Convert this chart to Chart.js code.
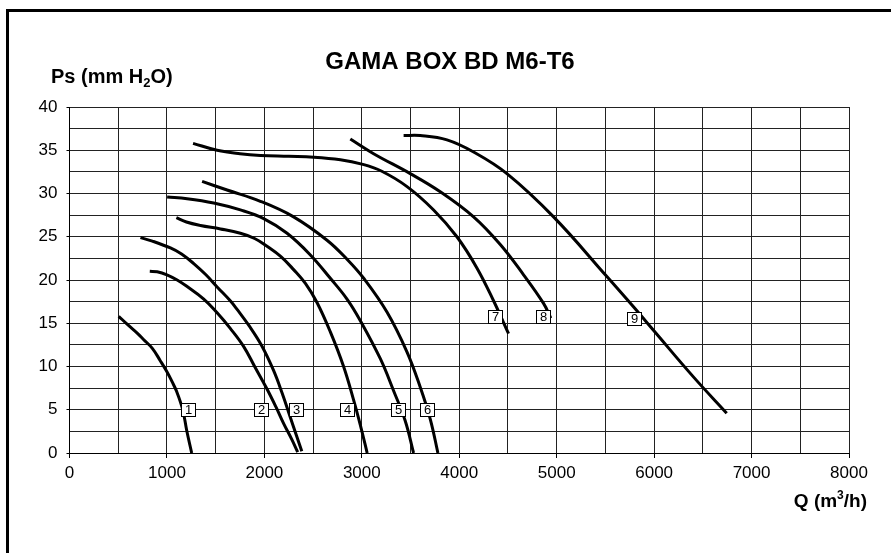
<!DOCTYPE html>
<html>
<head>
<meta charset="utf-8">
<script src="https://cdn.jsdelivr.net/npm/chart.js@4.4.0/dist/chart.umd.min.js"></script>
<style>
  html, body { margin: 0; padding: 0; background: #fff; }
  #wrap { width: 891px; height: 553px; position: relative; }
</style>
</head>
<body>
<div id="wrap"><canvas id="fanChart"></canvas></div>
<script>
// Curves: Q (m3/h) and Ps (mm H2O)
const q1 = [505, 600, 700, 762, 850, 930, 1000, 1050, 1100, 1162, 1203, 1254];
const ps1 = [15.8, 14.8, 13.8, 13.1, 12.1, 10.7, 9.4, 8.3, 7.1, 5.0, 2.6, 0];
const q2 = [824, 900, 1000, 1105, 1200, 1378, 1515, 1650, 1788, 1900, 2027, 2120, 2198, 2280, 2342];
const ps2 = [21.0, 20.95, 20.6, 20.0, 19.3, 17.8, 16.2, 14.4, 12.3, 10.0, 7.4, 5.3, 3.4, 1.6, 0.1];
const q3 = [728, 850, 1036, 1150, 1275, 1400, 1515, 1650, 1720, 1850, 1973, 2092, 2180, 2264, 2330, 2384];
const ps3 = [24.9, 24.5, 23.7, 23.0, 21.9, 20.6, 19.2, 17.6, 16.6, 14.6, 12.4, 9.6, 7.0, 4.2, 2.0, 0.2];
const q4 = [1097, 1200, 1344, 1550, 1754, 1900, 2027, 2170, 2300, 2421, 2540, 2677, 2813, 2914, 2990, 3055];
const ps4 = [27.2, 26.7, 26.3, 25.9, 25.4, 24.8, 23.9, 22.7, 21.2, 19.6, 17.4, 14.0, 10.0, 6.2, 3.0, 0];
const q5 = [1002, 1207, 1480, 1754, 1993, 2233, 2472, 2677, 2848, 2985, 3190, 3326, 3446, 3531];
const ps5 = [29.6, 29.4, 28.9, 28.1, 27.1, 25.4, 22.9, 20.2, 17.8, 15.3, 10.9, 7.2, 3.7, 0];
const q6 = [1361, 1617, 1959, 2300, 2643, 2848, 3019, 3258, 3463, 3600, 3703, 3781];
const ps6 = [31.4, 30.4, 29.1, 27.3, 24.6, 22.4, 20.2, 16.3, 11.7, 7.6, 3.9, 0];
const q7 = [1268, 1515, 1750, 1959, 2250, 2506, 2780, 3000, 3200, 3464, 3737, 3976, 4181, 4352, 4506];
const ps7 = [35.8, 35.0, 34.6, 34.4, 34.3, 34.2, 33.9, 33.4, 32.6, 30.8, 28.1, 25.0, 21.4, 17.6, 13.8];
const q8 = [2882, 3121, 3497, 3805, 4147, 4421, 4660, 4865, 4940];
const ps8 = [36.3, 34.6, 32.3, 30.2, 27.3, 24.1, 20.6, 17.3, 15.6];
const q9 = [3429, 3600, 3874, 4147, 4489, 4968, 5515, 5788, 6000, 6403, 6745];
const ps9 = [36.7, 36.7, 36.2, 34.8, 32.3, 27.3, 20.4, 16.9, 14.1, 8.8, 4.6];

// Curve number tags
const labelText = ['1', '2', '3', '4', '5', '6', '7', '8', '9'];
const labelQ = [1220, 1964, 2323, 2846, 3367, 3665, 4370, 4856, 5792];
const labelPs = [5, 5, 5, 5, 5, 5, 15.7, 15.7, 15.5];

// Axis ranges
const qMax = 8000, qStep = 500;
const psMax = 40, psStep = 2.5;

const allQ = [q1, q2, q3, q4, q5, q6, q7, q8, q9];
const allPs = [ps1, ps2, ps3, ps4, ps5, ps6, ps7, ps8, ps9];

const datasets = allQ.map((qs, i) => ({
  label: labelText[i],
  data: qs.map((q, j) => ({x: q, y: allPs[i][j]})),
  borderColor: '#000',
  borderWidth: 3,
  pointRadius: 0,
  showLine: true,
  fill: false,
  tension: 0.4
}));

const FONT = 'Arial, "Liberation Sans", sans-serif';

const decorPlugin = {
  id: 'decor',
  afterDatasetsDraw(chart) {
    const {ctx, scales: {x, y}} = chart;
    ctx.save();
    ctx.font = '13px ' + FONT;
    ctx.textAlign = 'center';
    ctx.textBaseline = 'middle';
    labelText.forEach((t, i) => {
      const px = Math.round(x.getPixelForValue(labelQ[i]));
      const py = Math.round(y.getPixelForValue(labelPs[i]));
      ctx.fillStyle = '#fff';
      ctx.fillRect(px - 7, py - 7, 15, 14);
      ctx.strokeStyle = '#000';
      ctx.lineWidth = 1;
      ctx.strokeRect(px - 7 + 0.5, py - 7 + 0.5, 14, 13);
      ctx.fillStyle = '#000';
      ctx.fillText(t, px + 0.5, py + 0.5);
    });
    ctx.restore();
  },
  afterDraw(chart) {
    const ctx = chart.ctx;
    ctx.save();
    ctx.fillStyle = '#000';
    ctx.textBaseline = 'alphabetic';

    // title
    ctx.font = 'bold 24px ' + FONT;
    ctx.textAlign = 'center';
    ctx.fillText('GAMA BOX BD M6-T6', 450, 69);

    // y axis title: Ps (mm H2O)
    ctx.textAlign = 'left';
    let cx = 51;
    ctx.font = 'bold 20px ' + FONT;
    ctx.fillText('Ps (mm H', cx, 83);
    cx += ctx.measureText('Ps (mm H').width;
    ctx.font = 'bold 13px ' + FONT;
    ctx.fillText('2', cx, 87);
    cx += ctx.measureText('2').width;
    ctx.font = 'bold 20px ' + FONT;
    ctx.fillText('O)', cx, 83);

    // x axis title: Q (m3/h), right aligned
    ctx.font = 'bold 19px ' + FONT;
    const a = 'Q (m', b = '/h)';
    const wa = ctx.measureText(a).width, wb = ctx.measureText(b).width;
    ctx.font = 'bold 12px ' + FONT;
    const ws = ctx.measureText('3').width;
    let sx = 867 - (wa + ws + wb);
    ctx.font = 'bold 19px ' + FONT;
    ctx.fillText(a, sx, 507);
    ctx.font = 'bold 12px ' + FONT;
    ctx.fillText('3', sx + wa, 499);
    ctx.font = 'bold 19px ' + FONT;
    ctx.fillText(b, sx + wa + ws, 507);

    // outer frame (top and left edges visible)
    ctx.strokeStyle = '#000';
    ctx.lineWidth = 3;
    ctx.strokeRect(7.5, 10.5, 1000, 1000);
    ctx.restore();
  }
};

new Chart(document.getElementById('fanChart'), {
  type: 'scatter',
  data: {datasets},
  plugins: [decorPlugin],
  options: {
    responsive: true,
    maintainAspectRatio: false,
    animation: false,
    layout: {padding: {left: 0, top: 107, right: 42, bottom: 0}},
    plugins: {legend: {display: false}, tooltip: {enabled: false}},
    scales: {
      x: {
        type: 'linear',
        min: 0, max: qMax,
        afterFit(s) { s.height = 100; },
        border: {color: '#000', width: 1},
        grid: {
          color: '#222',
          lineWidth: 1,
          tickLength: 5,
          tickColor: c => (c.tick && c.tick.value % 1000 === 0) ? '#000' : 'rgba(0,0,0,0)'
        },
        ticks: {
          stepSize: qStep,
          autoSkip: false,
          maxRotation: 0,
          padding: 5,
          color: '#000',
          font: {family: FONT, size: 17},
          callback: v => (v % 1000 === 0 ? v : '')
        }
      },
      y: {
        min: 0, max: psMax,
        afterFit(s) { s.width = 69.5; },
        border: {color: '#000', width: 1},
        grid: {
          color: '#222',
          lineWidth: 1,
          tickLength: 3,
          tickColor: c => (c.tick && c.tick.value % 5 === 0) ? '#000' : 'rgba(0,0,0,0)'
        },
        ticks: {
          stepSize: psStep,
          autoSkip: false,
          padding: 9,
          color: '#000',
          font: {family: FONT, size: 17},
          callback: v => (v % 5 === 0 ? v : '')
        }
      }
    }
  }
});
</script>
</body>
</html>
